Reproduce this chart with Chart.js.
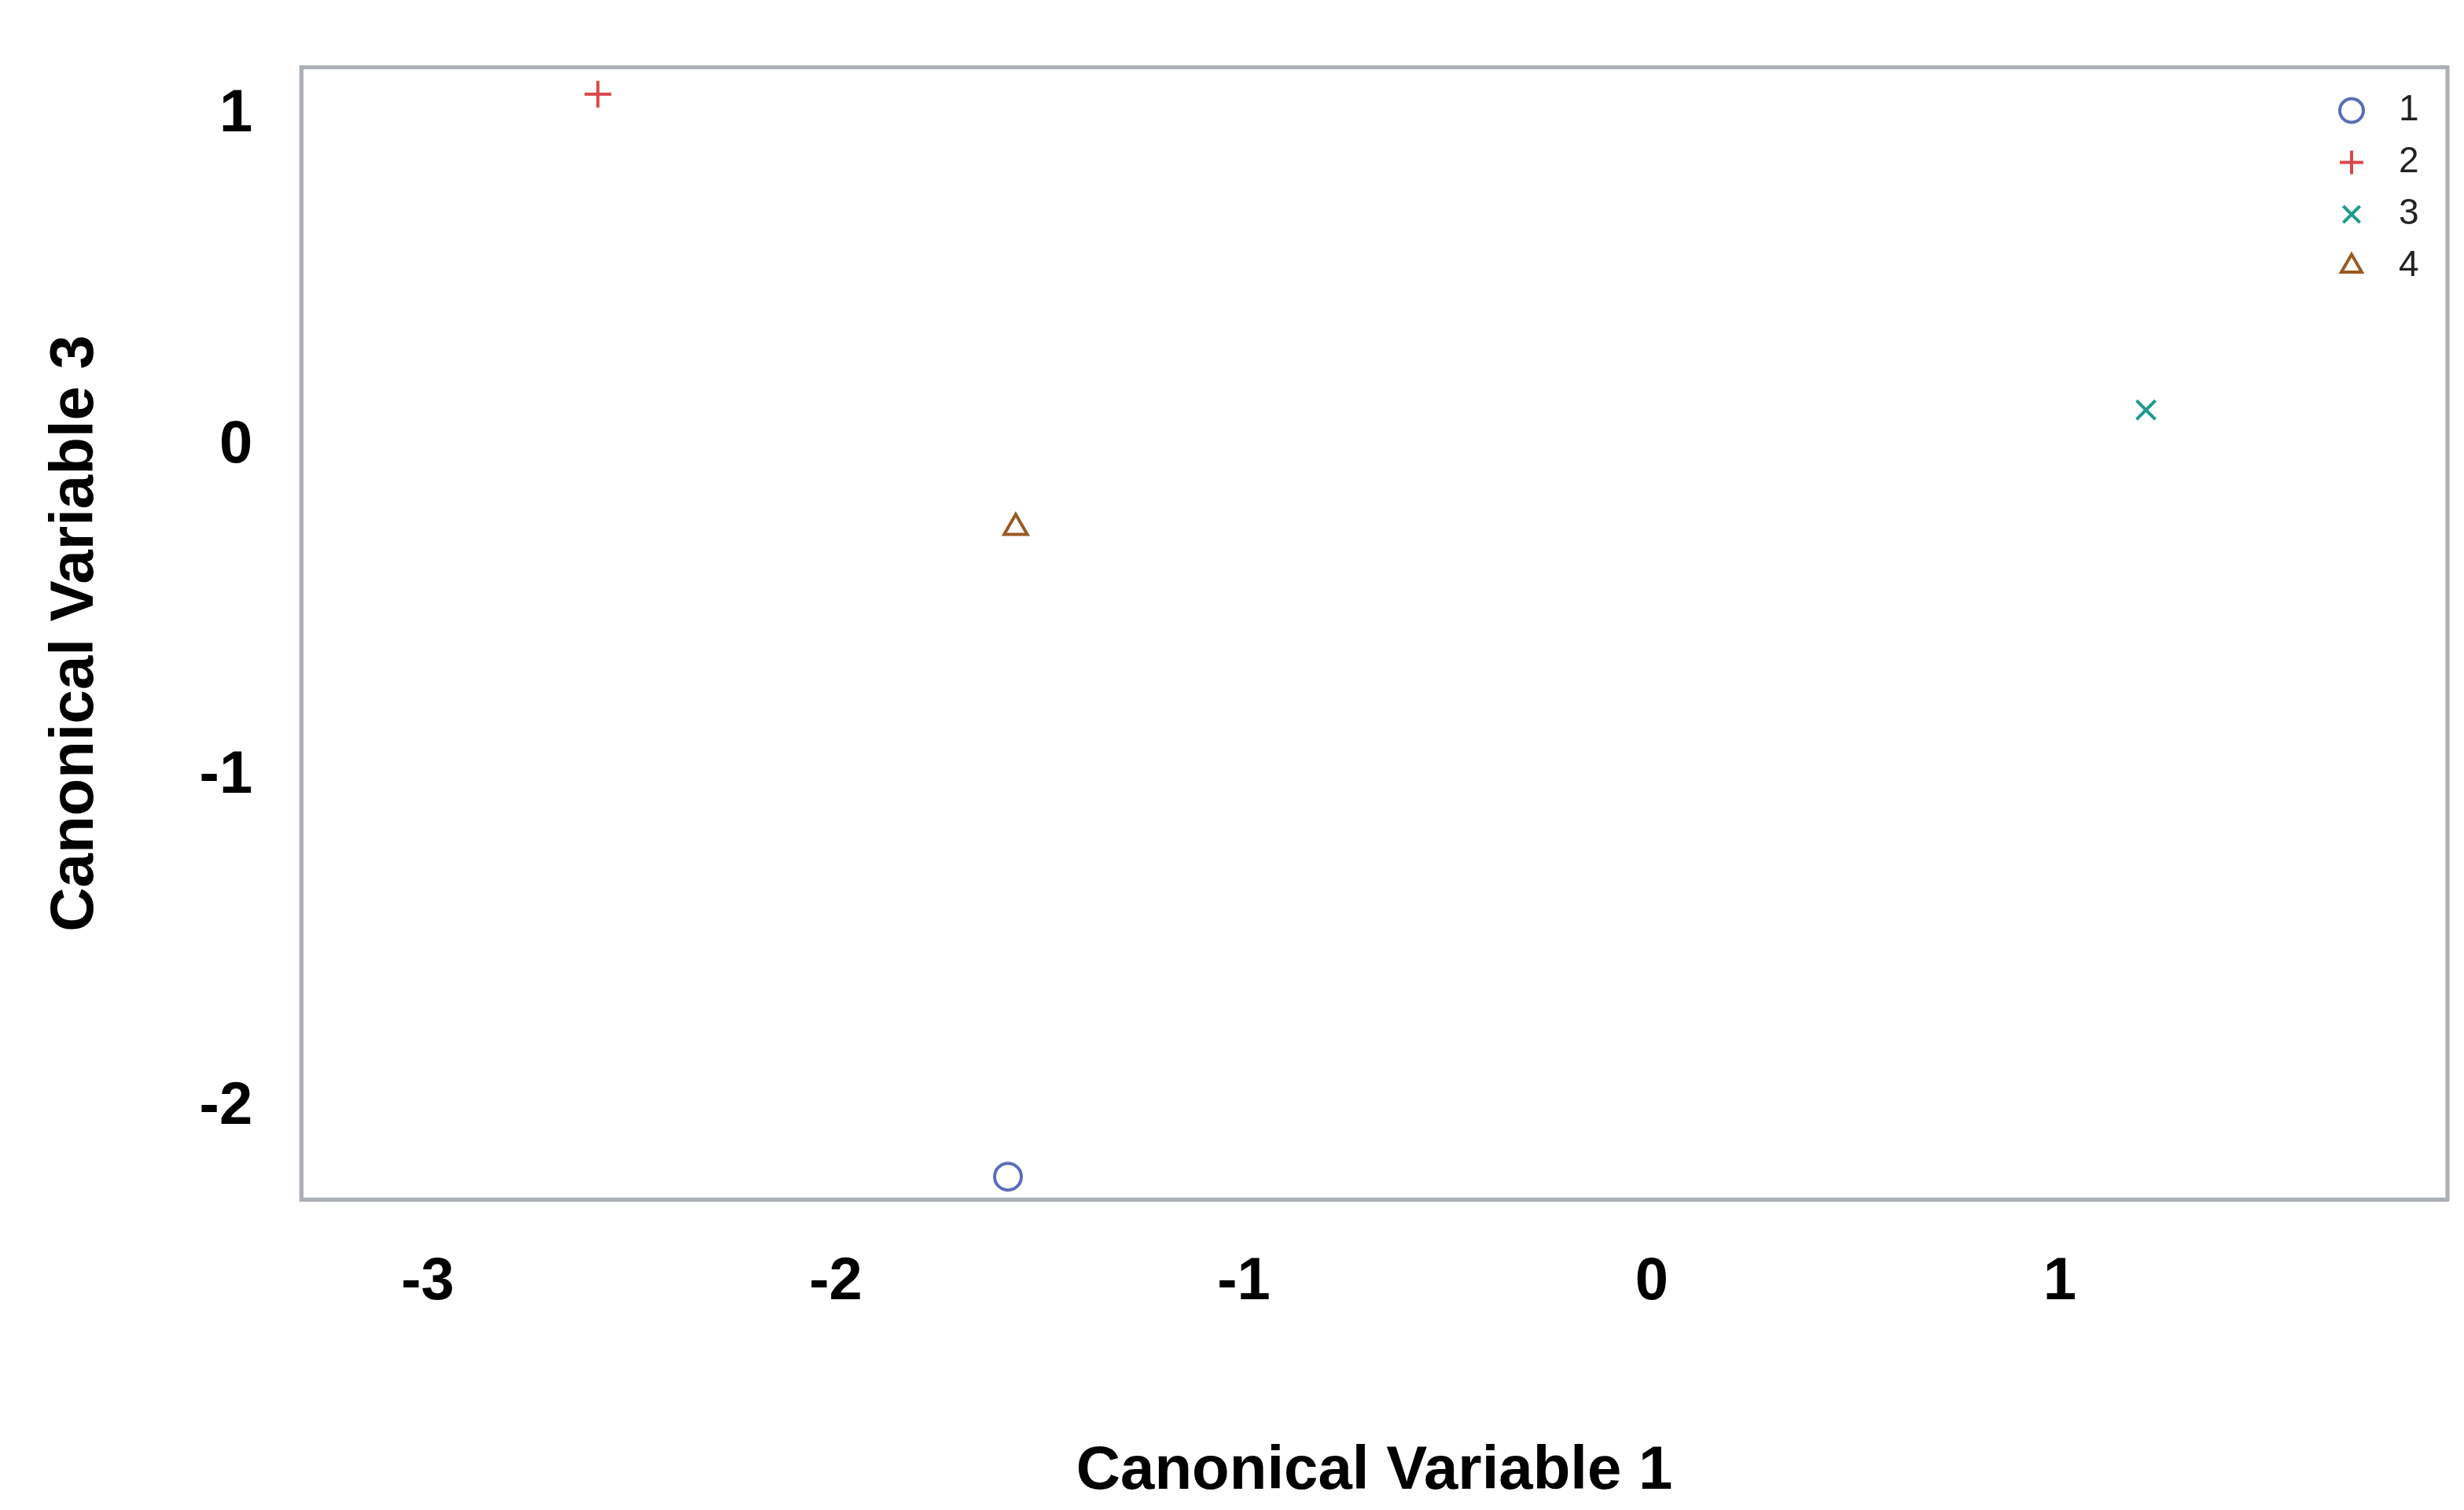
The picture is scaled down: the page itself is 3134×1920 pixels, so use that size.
<!DOCTYPE html>
<html><head><meta charset="utf-8">
<script src="https://cdn.jsdelivr.net/npm/chart.js@4"></script>
<style>html,body{margin:0;padding:0;background:#fff}</style>
</head><body>
<canvas id="c" width="3134" height="1920"></canvas>
<script>
// group labels and their canonical scores
const groups = ['1', '2', '3', '4'];
const can1 = [-1.578, -2.583, 1.211, -1.559];
const can3 = [-2.21, 1.063, 0.108, -0.248];
const colors = ['#5b6db8', '#d9474a', '#1e9a8e', '#9a5a22'];
const shapes = ['circle', 'cross', 'crossRot', 'triangle'];
const xTicks = [-3, -2, -1, 0, 1];
const yTicks = [-2, -1, 0, 1];

const legendInside = {
  id: 'legendInside',
  afterDatasetsDraw(chart) {
    const ctx = chart.ctx, a = chart.chartArea;
    ctx.save();
    ctx.font = '46px "Liberation Sans", Arial';
    ctx.textBaseline = 'middle';
    chart.data.datasets.forEach((ds, i) => {
      const y = a.top + 55 + i * 66;
      ctx.strokeStyle = ds.borderColor;
      ctx.fillStyle = 'rgba(0,0,0,0)';
      ctx.lineWidth = 4;
      Chart.helpers.drawPoint(ctx, { pointStyle: ds.pointStyle, radius: 15, borderWidth: 4 }, a.right - 122, y);
      ctx.fillStyle = '#222';
      ctx.fillText(ds.label, a.right - 62, y);
    });
    ctx.restore();
  }
};

const tickFont = { family: '"Liberation Sans", Arial', size: 76, weight: 'bold' };
const titleFont = { family: '"Liberation Sans", Arial', size: 78, weight: 'bold' };

new Chart(document.getElementById('c'), {
  type: 'scatter',
  data: {
    datasets: groups.map((g, i) => ({
      label: g,
      data: [{ x: can1[i], y: can3[i] }],
      pointStyle: shapes[i],
      borderColor: colors[i],
      backgroundColor: 'rgba(0,0,0,0)',
      pointRadius: 17,
      pointBorderWidth: 4
    }))
  },
  options: {
    responsive: false,
    devicePixelRatio: 1,
    animation: false,
    layout: { padding: { left: 50, right: 16, top: 6, bottom: 2 } },
    plugins: { legend: { display: false }, tooltip: { enabled: false } },
    scales: {
      x: {
        type: 'linear', min: -3.31, max: 1.95,
        afterBuildTicks: s => { s.ticks = xTicks.map(v => ({ value: v })); },
        grid: { display: false, drawTicks: true, tickLength: 22, tickColor: '#999', tickWidth: 4 },
        border: { color: '#aab0b4', width: 5 },
        ticks: { font: tickFont, color: '#000', padding: 38 },
        title: { display: true, text: 'Canonical Variable 1', font: titleFont, color: '#000', padding: { top: 110, bottom: 0 } }
      },
      y: {
        type: 'linear', min: -2.279, max: 1.144,
        afterBuildTicks: s => { s.ticks = yTicks.map(v => ({ value: v })); },
        grid: { display: false, drawTicks: true, tickLength: 22, tickColor: '#999', tickWidth: 4 },
        border: { color: '#aab0b4', width: 5 },
        ticks: { font: tickFont, color: '#000', padding: 40 },
        title: { display: true, text: 'Canonical Variable 3', font: titleFont, color: '#000', padding: { top: 0, bottom: 70 } }
      }
    }
  },
  plugins: [legendInside, {
    id: 'frame',
    afterDraw(chart) {
      const ctx = chart.ctx, a = chart.chartArea;
      ctx.save();
      ctx.strokeStyle = '#aab0b4';
      ctx.lineWidth = 5;
      ctx.strokeRect(a.left, a.top, a.right - a.left, a.bottom - a.top);
      ctx.restore();
    }
  }]
});
</script>
</body></html>
